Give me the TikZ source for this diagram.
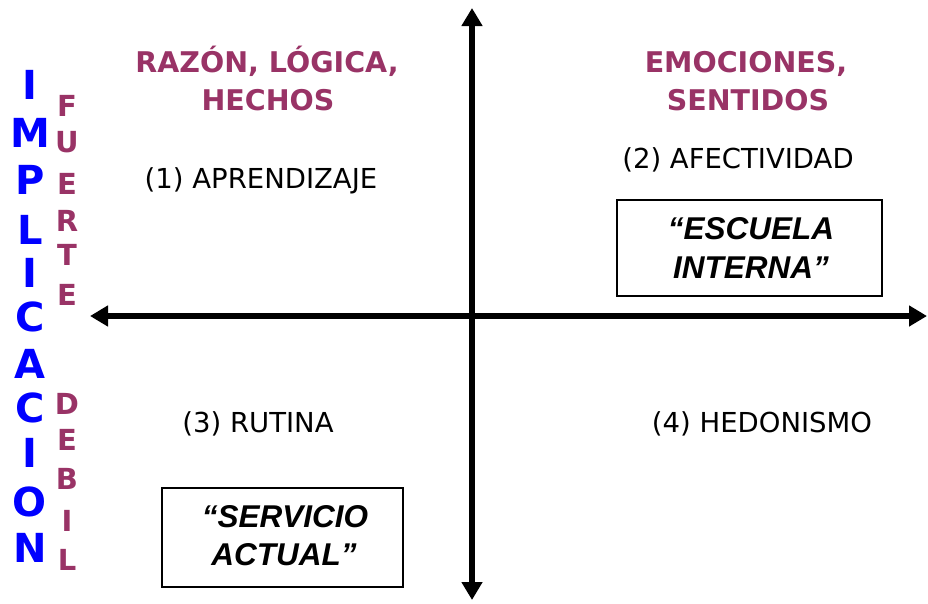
\documentclass[tikz,border=0pt]{standalone}
\usepackage{fontspec}
\setmainfont{DejaVu Sans}
\newfontfamily\boxfont{Liberation Sans}
\usetikzlibrary{arrows.meta}
\definecolor{headpurple}{RGB}{153,51,102}
\definecolor{implblue}{RGB}{0,0,255}
\tikzset{
  axis/.style={line width=5.5pt, {Triangle[length=18pt,width=20pt]}-{Triangle[length=18pt,width=20pt]}},
  head/.style={anchor=base, inner sep=0pt, text=headpurple, font=\fontsize{28.5}{34}\selectfont\bfseries},
  quad/.style={anchor=base, inner sep=0pt, font=\fontsize{27.5}{33}\selectfont},
  quote/.style={anchor=base, inner sep=0pt, font=\boxfont\fontsize{31.5}{36}\selectfont\bfseries\itshape},
  framebox/.style={draw=black, line width=1.8pt},
  bigletter/.style={inner sep=0pt, text=implblue, font=\fontsize{40}{40}\selectfont\bfseries},
  smallletter/.style={inner sep=0pt, text=headpurple, font=\fontsize{29}{32}\selectfont\bfseries},
}
\begin{document}
\begin{tikzpicture}[x=1pt,y=-1pt]
\useasboundingbox (0,0) rectangle (928,603);
% axes
\coordinate (top) at (472,8);
\coordinate (bot) at (472,600);
\coordinate (left) at (90,316);
\coordinate (right) at (927,316);
\draw[axis] (bot) -- (top);
\draw[axis] (left) -- (right);
% headings
\node[head] (h1a) at (267,72) {RAZÓN, LÓGICA,};
\node[head] (h1b) at (268,110) {HECHOS};
\node[head] (h2a) at (746,72) {EMOCIONES,};
\node[head] (h2b) at (748,110) {SENTIDOS};
% quadrant labels
\node[quad] (q1) at (261,188) {(1) APRENDIZAJE};
\node[quad] (q2) at (738,168) {(2) AFECTIVIDAD};
\node[quad] (q3) at (258,432) {(3) RUTINA};
\node[quad] (q4) at (762,432) {(4) HEDONISMO};
% boxes
\draw[framebox] (617,200) rectangle (882,296);
\node[quote] (e1) at (751,239) {“ESCUELA};
\node[quote] (e2) at (751,278) {INTERNA”};
\draw[framebox] (162,488) rectangle (403,587);
\node[quote] (s1) at (285,527) {“SERVICIO};
\node[quote] (s2) at (284,565) {ACTUAL”};
% vertical words
\foreach \l/\y [count=\i] in {I/85,M/133,P/180,L/230,I/273,C/317,A/364,C/408,I/453,O/502,N/548}
  \node[bigletter] (imp\i) at (30,\y) {\l};
\foreach \l/\y [count=\i] in {F/106,U/142,E/184,R/221,T/255,E/295}
  \node[smallletter] (fu\i) at (67,\y) {\l};
\foreach \l/\y [count=\i] in {D/404,E/440,B/479,I/521,L/560}
  \node[smallletter] (de\i) at (67,\y) {\l};
\end{tikzpicture}
\end{document}
